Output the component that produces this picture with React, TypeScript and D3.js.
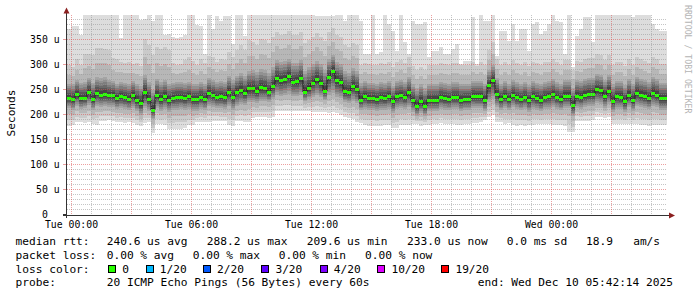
import React from 'react';
import * as d3 from 'd3';

const W = 697;
const H = 297;
const FONT = '"DejaVu Sans Mono", monospace';

// time: 150 consolidated points of 12 minutes, from Mon 23:48 UTC to Wed 05:48
const START = Date.UTC(2025, 11, 8, 23, 48);
const STEP_MIN = 12;

const median = [
  234,232,242,234,234,246,232,243,240,241,
  240,239,234,237,235,232,240,230,224,246,
  232,210,240,232,238,230,234,236,236,234,
  237,232,232,236,232,244,240,236,237,235,
  246,236,246,250,244,253,253,248,255,253,
  246,258,274,269,271,278,266,267,273,246,
  254,264,272,264,248,276,288,269,265,247,
  246,258,252,230,237,234,234,232,235,234,
  237,227,237,239,236,245,229,218,227,218,
  230,230,230,236,234,232,236,236,230,232,
  232,238,237,237,230,259,270,242,232,238,
  232,240,235,232,236,229,237,234,230,236,
  237,241,236,232,238,238,219,238,236,240,
  242,242,251,249,238,248,228,237,236,227,
  240,230,244,240,238,234,244,240,233,233,
];

const pingMax = [
  372,378,378,360,400,400,400,400,400,400,
  400,400,400,355,400,400,400,400,390,392,
  400,388,400,400,360,362,356,354,356,360,
  400,400,380,378,322,400,372,399,389,399,
  399,342,400,400,359,400,400,400,400,400,
  400,400,400,400,400,400,400,400,400,400,
  400,400,398,398,398,398,398,400,400,389,
  400,400,400,389,322,322,400,322,326,400,
  382,369,329,400,346,322,389,382,382,386,
  316,329,329,336,322,322,332,342,302,309,
  309,396,302,400,389,389,400,319,369,369,
  349,382,349,372,372,329,382,386,362,369,
  382,400,389,386,322,400,296,359,372,396,
  396,346,400,400,400,400,400,400,400,400,
  400,396,400,400,400,400,382,372,369,369,
];

const pingP19 = [
  300,296,312,300,322,322,320,334,334,332,
  330,314,312,306,304,306,302,304,298,352,
  340,320,336,332,336,330,304,300,302,310,
  316,308,300,312,304,318,316,306,312,310,
  326,316,330,340,330,350,346,340,352,350,
  344,356,366,360,362,368,360,360,366,344,
  350,356,364,356,348,366,374,360,356,340,
  336,344,340,300,304,302,300,300,304,302,
  306,296,306,310,304,316,298,290,296,290,
  300,300,300,304,302,300,304,304,300,300,
  300,306,298,306,300,330,346,312,300,306,
  300,310,304,300,306,298,306,304,300,306,
  306,312,306,300,310,310,290,308,306,312,
  314,314,322,320,310,320,300,306,306,298,
  312,300,316,312,308,304,316,312,302,302,
];

const pingP17 = [
  262,262,270,264,266,275,264,276,274,276,
  270,268,262,266,264,262,268,262,258,280,
  266,250,272,266,270,262,264,266,266,264,
  266,262,262,266,262,274,270,266,268,266,
  278,270,278,284,278,288,290,286,292,290,
  284,296,310,306,308,312,304,304,310,288,
  296,302,308,302,290,312,320,306,302,288,
  284,294,288,264,268,264,264,262,266,264,
  268,258,268,270,266,276,262,254,262,254,
  262,262,262,266,264,262,266,266,262,262,
  262,268,268,268,262,290,300,274,262,268,
  262,270,266,262,266,260,268,264,262,266,
  268,272,266,262,270,270,254,270,268,272,
  274,274,282,280,270,280,262,268,268,260,
  272,262,276,272,270,266,276,272,264,264,
];

const pingP4 = [
  214,210,218,212,214,220,210,218,216,218,
  216,216,212,214,212,210,214,208,200,214,
  208,192,214,208,212,206,210,210,212,210,
  212,208,208,212,210,218,216,214,214,212,
  218,210,218,222,220,226,226,224,228,228,
  226,232,240,238,240,242,238,238,240,228,
  232,236,240,236,230,240,244,236,234,226,
  224,228,224,210,212,210,210,208,210,210,
  212,204,212,214,212,216,206,198,204,198,
  208,208,208,212,210,210,212,212,208,210,
  210,214,214,214,208,226,232,216,210,214,
  210,216,212,210,212,206,212,210,208,212,
  212,216,212,210,214,214,198,214,212,216,
  218,218,224,222,214,222,206,212,212,206,
  216,208,218,216,214,212,218,216,210,210,
];

const pingMin = [
  178,180,186,186,185,186,182,181,189,189,
  190,189,186,186,185,186,184,180,178,184,
  186,164,182,182,181,172,172,173,172,175,
  180,180,186,187,186,187,188,189,188,189,
  180,179,188,188,186,186,195,196,196,196,
  195,196,208,209,209,209,208,209,208,208,
  208,206,207,206,206,205,206,204,200,196,
  194,192,186,184,180,179,179,178,179,180,
  180,174,174,180,180,181,182,182,179,180,
  181,183,182,184,183,182,183,181,180,182,
  183,184,185,186,190,196,200,186,186,182,
  184,180,179,180,178,180,181,182,182,182,
  182,180,180,181,179,166,166,189,189,188,
  189,190,196,196,195,196,182,182,182,183,
  182,182,182,180,180,179,180,180,180,180,
];

const yTickValues = [0, 50, 100, 150, 200, 250, 300, 350];
const yTickNumbers = ['0', '50', '100', '150', '200', '250', '300', '350'];
const yTickUnits = ['', 'u', 'u', 'u', 'u', 'u', 'u', 'u'];

const legendLine1 = ['median rtt:', '240.6 us avg', '288.2 us max', '209.6 us min', '233.0 us now', '0.0 ms sd', '18.9   am/s'];
const legendLine2 = ['packet loss:', '0.00 % avg', '0.00 % max', '0.00 % min', '0.00 % now'];
const lossTitle = 'loss color:';
const lossLabels = ['0', '1/20', '2/20', '3/20', '4/20', '10/20', '19/20'];
const lossColors = ['#26ff00', '#00b8ff', '#0059ff', '#5e00ff', '#7e00ff', '#dd00ff', '#ff0000'];
const probeLine = ['probe:', '20 ICMP Echo Pings (56 Bytes) every 60s', 'end: Wed Dec 10 05:42:14 2025'];

// layout (pixels)
const line1X = [15.5, 106.7, 206.7, 306.7, 407, 506.7, 586];
const line2X = [15.5, 106.7, 192.7, 278.7, 365];
const lossBoxX = [108.5, 146, 203.3, 261.7, 320, 377.7, 441.7];
const probeX = [15.5, 106.7, 477.7];
const baselines = [245, 258.8, 272.6, 286.4];

const PLOT_L = 67;
const PLOT_R = 667;
const PLOT_T = 15;
const PLOT_B = 215;

const times = median.map((_, i) => new Date(START + i * STEP_MIN * 60000));
const endTime = new Date(START + median.length * STEP_MIN * 60000);

const x = d3.scaleUtc().domain([new Date(START), endTime]).range([PLOT_L, PLOT_R]);
const y = d3.scaleLinear().domain([0, 400]).range([PLOT_B, PLOT_T]).clamp(true);

function pingsAt(i: number): number[] {
  const interp = d3
    .scaleLinear()
    .domain([1, 4, 10.5, 17, 19, 20])
    .range([pingMin[i], pingP4[i], median[i], pingP17[i], pingP19[i], pingMax[i]]);
  return d3.range(1, 21).map((r) => interp(r));
}

const pings = median.map((_, i) => pingsAt(i));
const idx = d3.range(0, median.length + 1);
const xAt = (j: number) => (j < times.length ? x(times[j]) : x(endTime));
const col = (j: number) => Math.min(j, median.length - 1);

const bands = d3.range(1, 11).map((k) => {
  const g = 221 - 19 * (k - 1);
  const area = d3
    .area<number>()
    .curve(d3.curveStepAfter)
    .x((j) => xAt(j))
    .y0((j) => y(pings[col(j)][k - 1]))
    .y1((j) => y(pings[col(j)][20 - k]));
  return { d: area(idx) || '', color: d3.rgb(g, g, g).formatHex() };
});

const medLine = d3
  .line<number>()
  .curve(d3.curveStepAfter)
  .x((j) => xAt(j))
  .y((j) => y(median[col(j)]))(idx) || '';

const medBox = d3
  .area<number>()
  .curve(d3.curveStepAfter)
  .x((j) => xAt(j))
  .y0((j) => y(median[col(j)]) + 1.5)
  .y1((j) => y(median[col(j)]) - 1.5)(idx) || '';

const hourTicks = d3.utcHour.every(1)!.range(new Date(START), endTime);
const majorTicks = hourTicks.filter((d) => d.getUTCHours() % 3 === 0);
const minorTicks = hourTicks.filter((d) => d.getUTCHours() % 3 !== 0);
const labelTicks = hourTicks.filter((d) => d.getUTCHours() % 6 === 0);
const fmt = d3.utcFormat('%a %H:%M');

const minorY = d3.range(10, 400, 10).filter((v) => v % 50 !== 0);
const majorY = d3.range(50, 400, 50);

const GRID = 'rgba(150,150,150,0.55)';
const MGRID = 'rgba(220,80,80,0.55)';
const AXIS = '#333333';
const ARROW = '#8b2020';

export default function App() {
  return (
    <svg
      width={W}
      height={H}
      viewBox={`0 0 ${W} ${H}`}
      style={{ position: 'absolute', left: 0, top: 0, background: '#ffffff' }}
    >
      <rect x={0} y={0} width={W} height={H} fill="#ffffff" />
      <g shapeRendering="crispEdges">
        {bands.map((b, i) => (
          <path key={i} d={b.d} fill={b.color} />
        ))}
      </g>
      <path d={medLine} fill="none" stroke="#202020" strokeWidth={1} />
      <path d={medBox} fill={lossColors[0]} shapeRendering="crispEdges" />

      {/* grid */}
      <g shapeRendering="crispEdges">
        {minorY.map((v) => (
          <line key={'my' + v} x1={PLOT_L} x2={PLOT_R} y1={y(v) - 0.5} y2={y(v) - 0.5} stroke={GRID} strokeDasharray="1,1" />
        ))}
        {minorTicks.map((d) => (
          <line key={'mx' + d.getTime()} x1={x(d) + 0.5} x2={x(d) + 0.5} y1={PLOT_T} y2={PLOT_B} stroke={GRID} strokeDasharray="1,1" />
        ))}
        {majorY.map((v) => (
          <line key={'My' + v} x1={PLOT_L} x2={PLOT_R} y1={y(v) - 0.5} y2={y(v) - 0.5} stroke={MGRID} strokeDasharray="1,1" />
        ))}
        {majorTicks.map((d) => (
          <line key={'Mx' + d.getTime()} x1={x(d) + 0.5} x2={x(d) + 0.5} y1={PLOT_T} y2={PLOT_B} stroke={MGRID} strokeDasharray="1,1" />
        ))}
        {yTickValues.map((v) => (
          <line key={'yt' + v} x1={63} x2={66} y1={y(v) - 0.5} y2={y(v) - 0.5} stroke={v === 0 ? AXIS : MGRID} />
        ))}
      </g>

      {/* axes */}
      <g shapeRendering="crispEdges">
        <line x1={66.5} x2={66.5} y1={13} y2={218} stroke={AXIS} />
        <line x1={63} x2={669} y1={215.5} y2={215.5} stroke={AXIS} />
      </g>
      <path d="M63.5,13.5 L69.5,13.5 L66.5,7.5 Z" fill={ARROW} />
      <path d="M669,212.5 L669,218.5 L675,215.5 Z" fill={ARROW} />

      {/* y labels */}
      <g fontFamily={FONT} fontSize={9.8} fill="#000">
        {yTickValues.map((v, i) => (
          <g key={'yl' + v}>
            <text x={47.8} y={y(v) - 0.5 + 3.5} textAnchor="end">
              {yTickNumbers[i]}
            </text>
            {yTickUnits[i] && (
              <text x={53.7} y={y(v) - 0.5 + 3.5}>
                {yTickUnits[i]}
              </text>
            )}
          </g>
        ))}
        {labelTicks.map((d) => (
          <text key={'xl' + d.getTime()} x={x(d) + 0.5} y={228.3} textAnchor="middle">
            {fmt(d)}
          </text>
        ))}
      </g>

      <text
        transform="translate(15,113) rotate(-90)"
        textAnchor="middle"
        fontFamily={FONT}
        fontSize={11.2}
        fill="#000"
      >
        Seconds
      </text>

      <text transform="translate(685,5) rotate(90)" fontFamily={FONT} fontSize={8.2} fill="#b4b4b4">
        RRDTOOL / TOBI OETIKER
      </text>

      {/* legend */}
      <g fontFamily={FONT} fontSize={11.2} fill="#000" style={{ whiteSpace: 'pre' }}>
        {legendLine1.map((t, i) => (
          <text key={'l1' + i} x={line1X[i]} y={baselines[0]} xmlSpace="preserve">
            {t}
          </text>
        ))}
        {legendLine2.map((t, i) => (
          <text key={'l2' + i} x={line2X[i]} y={baselines[1]} xmlSpace="preserve">
            {t}
          </text>
        ))}
        <text x={15.5} y={baselines[2]}>
          {lossTitle}
        </text>
        {lossLabels.map((t, i) => (
          <g key={'lc' + i}>
            <rect x={lossBoxX[i]} y={265.5} width={7} height={7} fill={lossColors[i]} stroke="#000" strokeWidth={1} shapeRendering="crispEdges" />
            <text x={lossBoxX[i] + 13.7} y={baselines[2]}>
              {t}
            </text>
          </g>
        ))}
        {probeLine.map((t, i) => (
          <text key={'pl' + i} x={probeX[i]} y={baselines[3]} xmlSpace="preserve">
            {t}
          </text>
        ))}
      </g>
    </svg>
  );
}
